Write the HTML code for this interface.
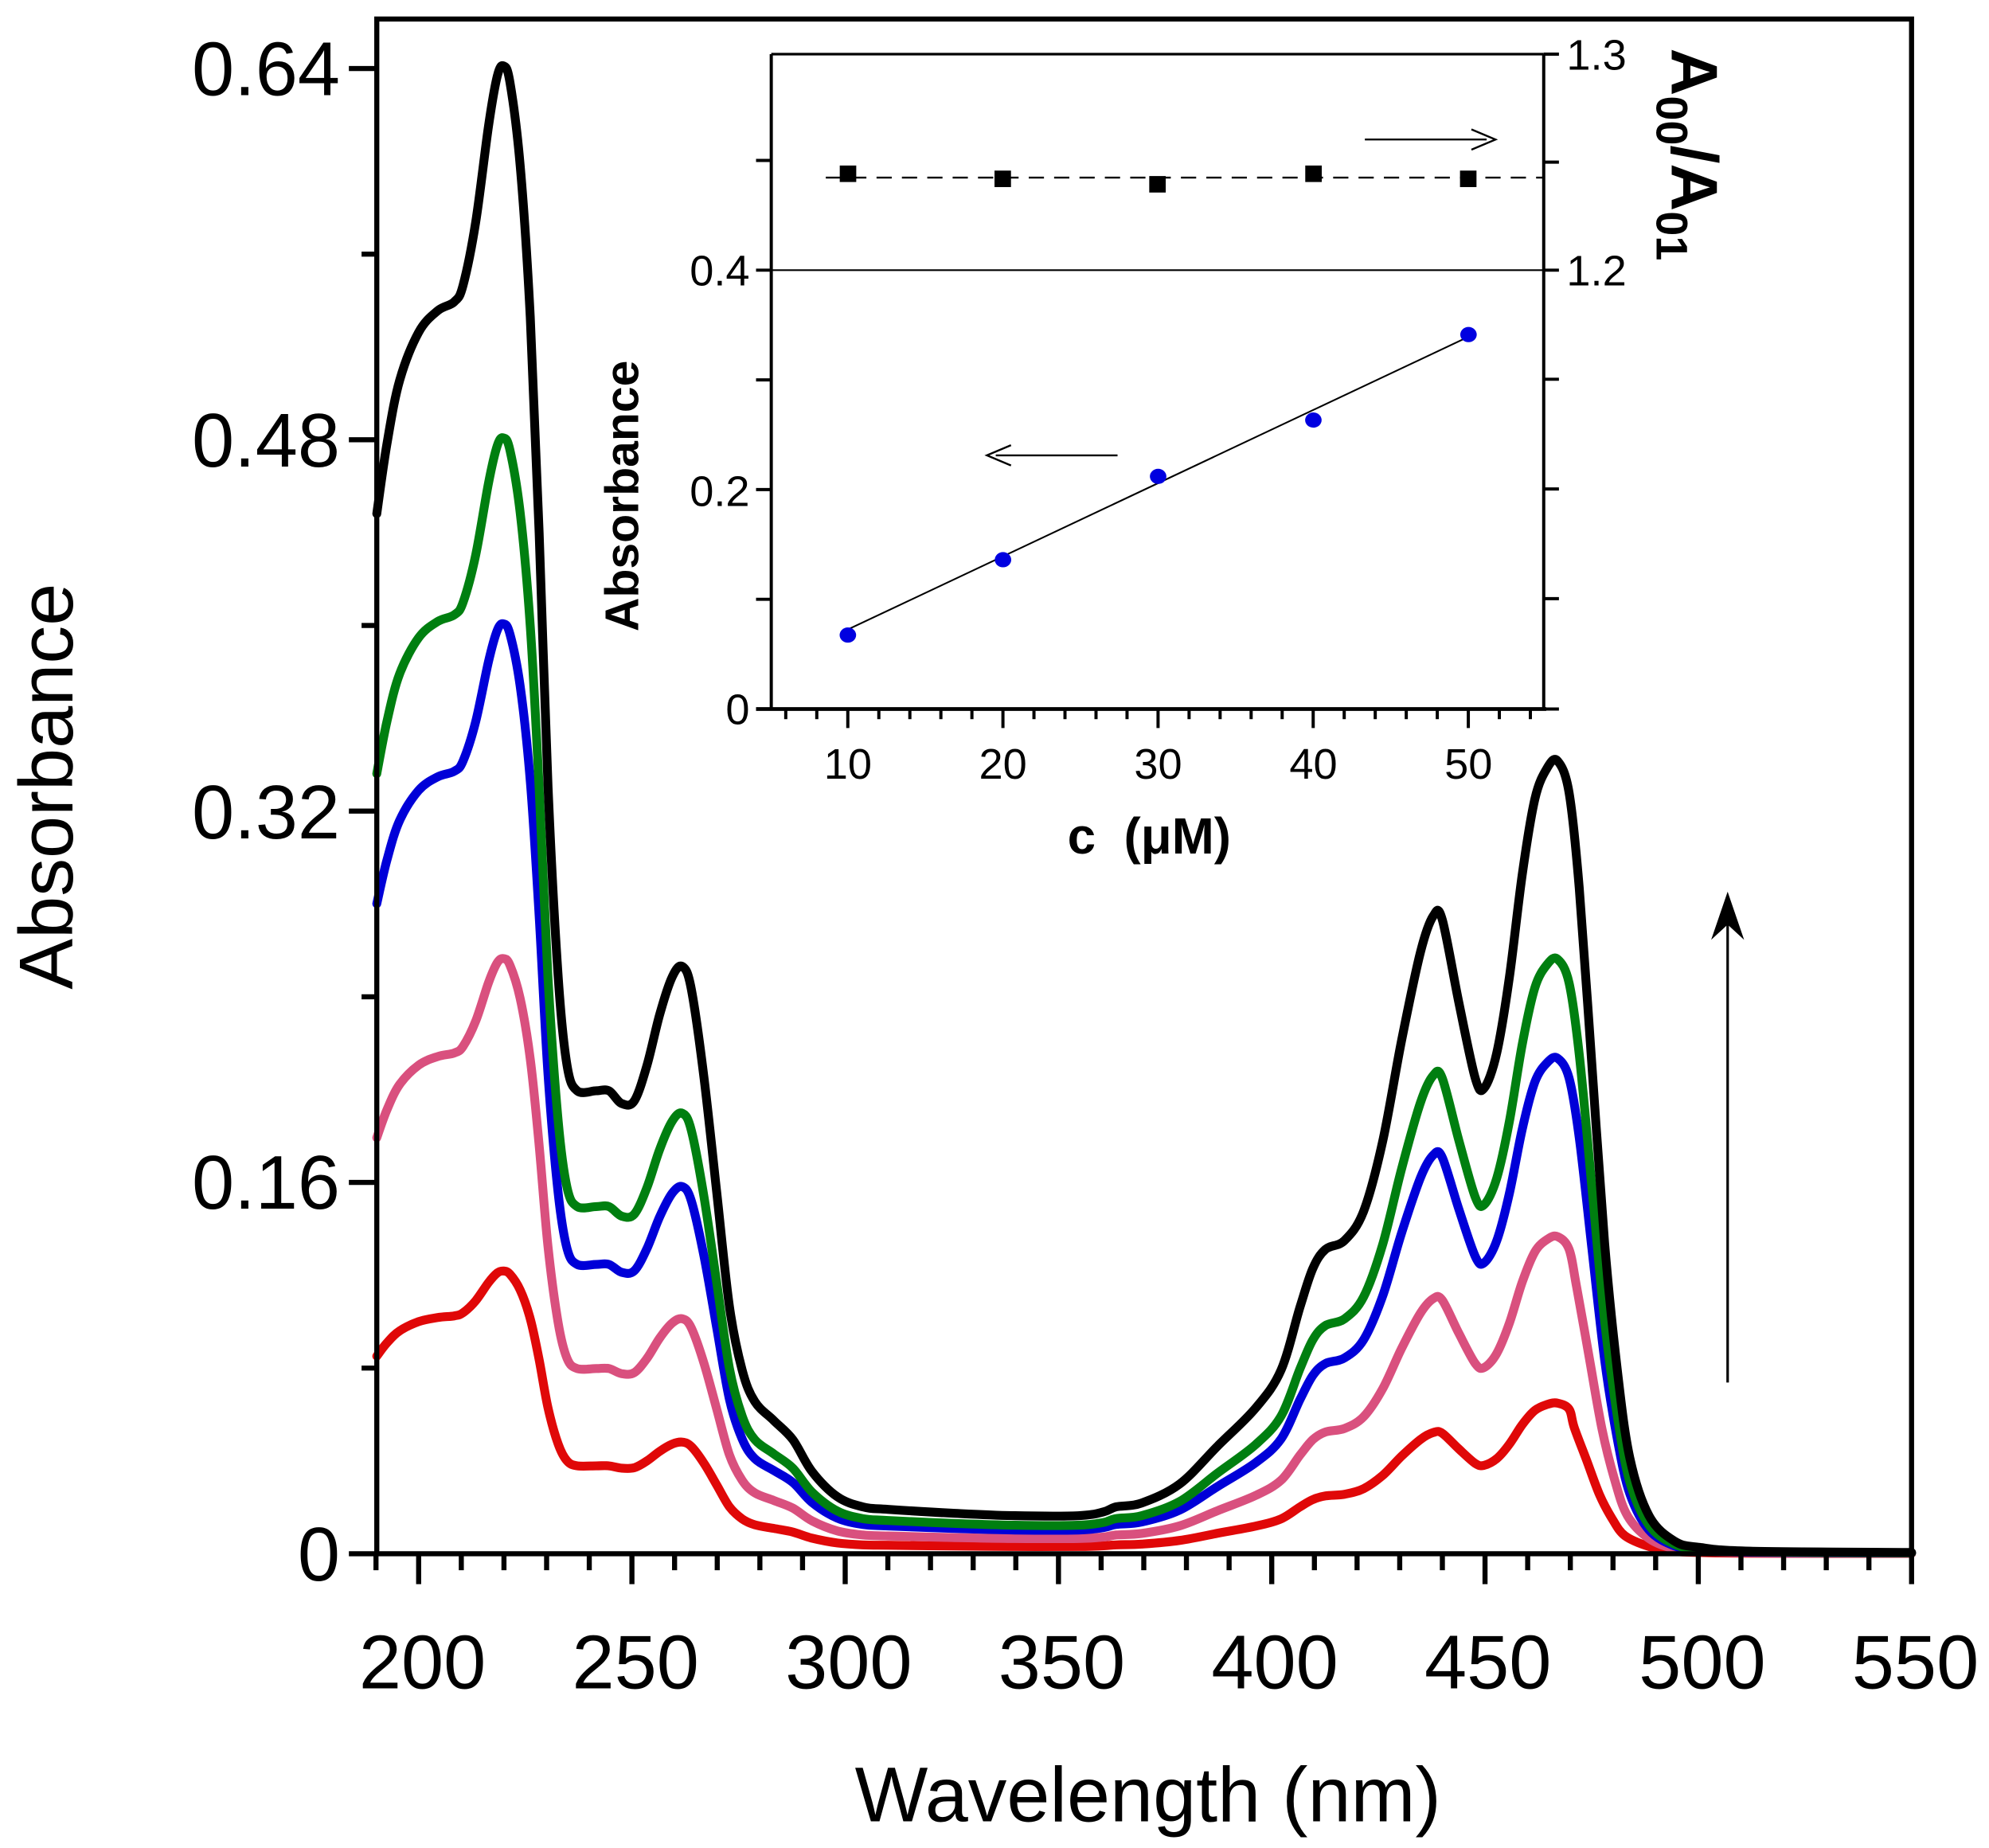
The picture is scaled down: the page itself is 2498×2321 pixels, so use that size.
<!DOCTYPE html>
<html><head><meta charset="utf-8"><style>html,body{margin:0;padding:0;background:#fff}svg{display:block}</style></head>
<body>
<svg id="s" xmlns="http://www.w3.org/2000/svg" width="2498" height="2321" viewBox="0 0 1568 1457" font-family="'Liberation Sans', Arial, sans-serif">
<rect x="0" y="0" width="1568" height="1457" fill="#fff"/>
<g id="curves" fill="none" stroke-width="7" stroke-linejoin="round" stroke-linecap="round"></g>
<rect x="297" y="15" width="1210" height="1210" fill="none" stroke="#000" stroke-width="4"/>
<g id="mticks" stroke="#000" stroke-width="4"></g>
<g font-size="60" fill="#000" text-anchor="end">
<text x="268" y="1246">0</text>
<text x="268" y="953">0.16</text>
<text x="268" y="661">0.32</text>
<text x="268" y="368">0.48</text>
<text x="268" y="75">0.64</text>
</g>
<g font-size="60" fill="#000" text-anchor="middle">
<text x="333" y="1331">200</text>
<text x="501" y="1331">250</text>
<text x="669" y="1331">300</text>
<text x="837" y="1331">350</text>
<text x="1005" y="1331">400</text>
<text x="1173" y="1331">450</text>
<text x="1342" y="1331">500</text>
<text x="1510" y="1331">550</text>
</g>
<text x="905" y="1436" font-size="61" text-anchor="middle">Wavelength (nm)</text>
<text transform="translate(57,620) rotate(-90)" font-size="60" text-anchor="middle">Absorbance</text>
<line x1="1362" y1="1090" x2="1362" y2="720" stroke="#000" stroke-width="2"/>
<path d="M1362 703 L1375 741 L1362 729 L1349 741 Z" fill="#000"/>
<rect x="608" y="42.7" width="609" height="516.3" fill="#fff" stroke="none"/>
<line x1="608" y1="42.7" x2="1217" y2="42.7" stroke="#000" stroke-width="2"/>
<line x1="608" y1="213" x2="1217" y2="213" stroke="#000" stroke-width="1.3"/>
<line x1="608" y1="42.7" x2="608" y2="559" stroke="#000" stroke-width="2.5"/>
<line x1="1217" y1="42.7" x2="1217" y2="559" stroke="#000" stroke-width="2.5"/>
<line x1="596" y1="559" x2="1219" y2="559" stroke="#000" stroke-width="3"/>
<g id="iticks" stroke="#000" stroke-width="2.5"></g>
<g font-size="34" text-anchor="end">
<text x="591" y="571">0</text>
<text x="591" y="399">0.2</text>
<text x="591" y="225">0.4</text>
</g>
<g font-size="34" text-anchor="start">
<text x="1235" y="225">1.2</text>
<text x="1235" y="55">1.3</text>
</g>
<g font-size="34" text-anchor="middle">
<text x="668.4" y="614">10</text>
<text x="790.7" y="614">20</text>
<text x="913" y="614">30</text>
<text x="1035.4" y="614">40</text>
<text x="1157.7" y="614">50</text>
</g>
<text x="906" y="673" font-size="40" font-weight="bold" text-anchor="middle" xml:space="preserve">c  (μM)</text>
<text transform="translate(503,391) rotate(-90)" font-size="37" font-weight="bold" text-anchor="middle">Absorbance</text>
<text transform="translate(1318,38) rotate(90)" font-size="52" font-weight="bold">A<tspan font-size="35" dy="12">00</tspan><tspan dy="-12">/A</tspan><tspan font-size="35" dy="12">01</tspan></text>
<line x1="651" y1="140" x2="1217" y2="140" stroke="#000" stroke-width="1.5" stroke-dasharray="12,8"/>
<g fill="#000">
<rect x="662" y="130.5" width="13" height="13"/>
<rect x="784" y="134.5" width="13" height="13"/>
<rect x="906" y="138.8" width="13" height="13"/>
<rect x="1029" y="130.5" width="13" height="13"/>
<rect x="1151" y="134.5" width="13" height="13"/>
</g>
<line x1="668.4" y1="496.3" x2="1157.7" y2="265.5" stroke="#000" stroke-width="1.3"/>
<g fill="#0000e0">
<ellipse cx="668.4" cy="500.7" rx="6.5" ry="6"/>
<ellipse cx="790.7" cy="441.3" rx="6.5" ry="6"/>
<ellipse cx="913" cy="375.6" rx="6.5" ry="6"/>
<ellipse cx="1035.4" cy="331.2" rx="6.5" ry="6"/>
<ellipse cx="1157.7" cy="263.8" rx="6.5" ry="6"/>
</g>
<line x1="1076" y1="110" x2="1172" y2="110" stroke="#000" stroke-width="1.5"/>
<path d="M1160 102 L1179 110 L1160 118" fill="none" stroke="#000" stroke-width="1.5"/>
<line x1="881" y1="359" x2="785" y2="359" stroke="#000" stroke-width="1.5"/>
<path d="M797 351 L778 359 L797 367" fill="none" stroke="#000" stroke-width="1.5"/>
</svg>
<script>
(function(){
var NS="http://www.w3.org/2000/svg";
function el(p,n,a){var e=document.createElementNS(NS,n);for(var k in a)e.setAttribute(k,a[k]);p.appendChild(e);return e;}
var mt=document.getElementById("mticks");
for(var w=190;w<=550;w+=10){var x=330+(w-200)*3.3629;var maj=(w%50==0);el(mt,"line",{x1:x,y1:1225,x2:x,y2:maj?1249:1238});}
for(var i=0;i<=8;i++){var y=1225-i*146.375;el(mt,"line",{x1:297,y1:y,x2:(i%2==0)?275:285,y2:y});}
var it=document.getElementById("iticks");
for(var c=6;c<=54;c+=2){var x=607.2+(c-5)*12.23;var maj=(c%10==0);el(it,"line",{x1:x,y1:559,x2:x,y2:maj?574:567});}
for(var a=0;a<6;a++){var y=559-a*86.5;el(it,"line",{x1:596,y1:y,x2:608,y2:y});}
[42.7,127.8,213,299,385.5,472,559].forEach(function(y){el(it,"line",{x1:1217,y1:y,x2:1229,y2:y});});
var B=[[297,405],[305,350],[315,300],[330,262],[345,245],[358,238],[365,225],[375,175],[385,100],[392,60],[397,52],[402,65],[410,130],[418,250],[425,420],[432,620],[440,770],[447,840],[455,860],[470,860],[480,860],[490,870],[500,868],[510,840],[520,800],[530,770],[538,762],[545,780],[555,850],[565,940],[575,1030],[585,1080],[595,1105],[610,1120],[625,1135],[640,1160],[660,1180],[680,1188],[700,1190],[750,1193],[800,1195],[850,1195],[870,1192],[880,1188],[900,1185],[930,1170],[960,1140],[990,1110],[1010,1080],[1025,1030],[1035,1000],[1045,985],[1060,978],[1075,955],[1090,900],[1105,820],[1120,750],[1130,722],[1137,725],[1150,790],[1163,850],[1170,858],[1180,830],[1190,770],[1200,690],[1210,630],[1220,605],[1228,600],[1237,625],[1245,700],[1255,840],[1265,980],[1275,1080],[1285,1150],[1300,1195],[1320,1215],[1340,1220],[1380,1223],[1507,1224]];
var series=[["#e00808",0.19,-4],["#d9507e",0.40,-2],["#0000d8",0.625,0],["#007f10",0.75,0],["#000000",1,0]];
var g=document.getElementById("curves");
series.forEach(function(s){
 var pts=B.map(function(p){var x=p[0];if(s[1]<1&&x>1240&&x<1300){x+=s[2];}return [x,1225-(1225-p[1])*s[1]];});
 var d="M"+pts[0][0]+" "+pts[0][1];
 for(var i=0;i<pts.length-1;i++){var p0=pts[i-1]||pts[i],p1=pts[i],p2=pts[i+1],p3=pts[i+2]||p2;
  var c1x=p1[0]+(p2[0]-p0[0])/6,c1y=p1[1]+(p2[1]-p0[1])/6,c2x=p2[0]-(p3[0]-p1[0])/6,c2y=p2[1]-(p3[1]-p1[1])/6;
  d+=" C"+c1x.toFixed(1)+" "+c1y.toFixed(1)+" "+c2x.toFixed(1)+" "+c2y.toFixed(1)+" "+p2[0].toFixed(1)+" "+p2[1].toFixed(1);}
 el(g,"path",{d:d,stroke:s[0]});
});
})();
</script>
</body></html>
